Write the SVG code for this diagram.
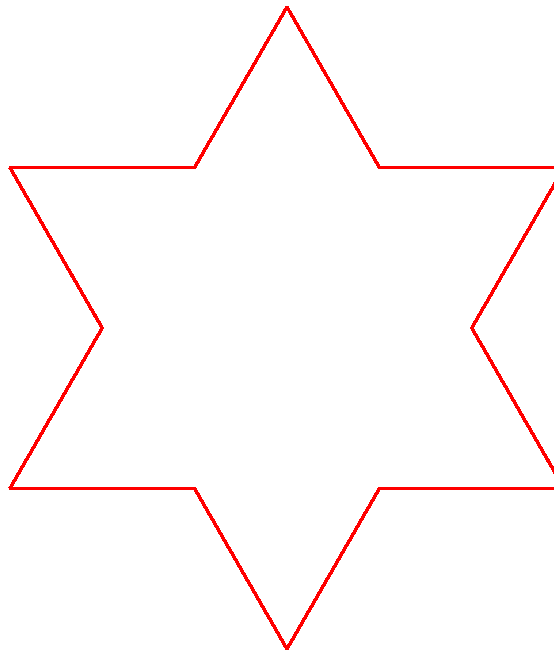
<svg xmlns="http://www.w3.org/2000/svg" width="554" height="654" viewBox="0 0 554 654">
<style>
.star{fill:none;stroke:#ff0000;stroke-width:3.6;stroke-linejoin:bevel;shape-rendering:crispEdges}
</style>
<rect width="554" height="654" fill="#ffffff"/>
<polygon class="star" points="287,7 379.4,167.5 564.1,167.5 471.8,328 564.1,488.5 379.4,488.5 287,649 194.6,488.5 9.9,488.5 102.2,328 9.9,167.5 194.6,167.5"/>
</svg>
